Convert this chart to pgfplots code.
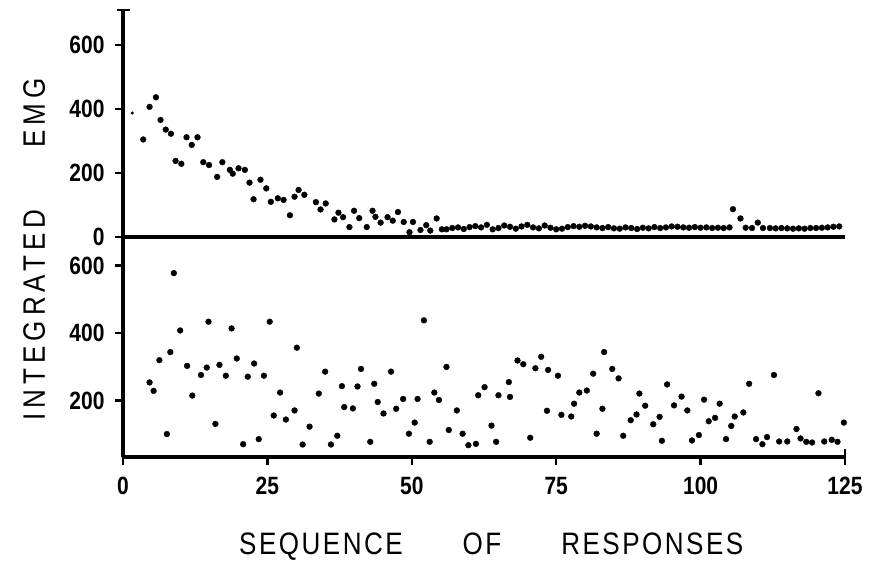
\documentclass[border=0pt]{standalone}
\usepackage{fontspec}
\setmainfont{Liberation Sans}
\newfontfamily\tickfont{Liberation Sans}[FakeStretch=0.84]
\newfontfamily\xtitlefont{Liberation Sans}[FakeStretch=0.84, LetterSpace=8]
\newfontfamily\ytitlefont{Liberation Sans}[FakeStretch=0.84, LetterSpace=16]
\usepackage{pgfplots}
\pgfplotsset{compat=1.18}

\pgfplotsset{
  emgaxis/.style={
    scale only axis, width=722pt,
    xmin=0, xmax=125, clip=false,
    axis x line*=bottom, axis y line*=left,
    axis line style={-, line width=3.2pt},
    tick align=outside, major tick length=8pt,
    tick style={black, line width=2.4pt},
    ticklabel style={font=\tickfont\bfseries\fontsize{25}{25}\selectfont},
    yticklabel style={xshift=-7pt},
    xticklabel style={yshift=-9pt},
    /pgf/number format/assume math mode=true,
    ytick pos=left, xtick pos=bottom,
  },
  dots/.style={only marks, mark=*, mark size=2.9pt, black, mark options={fill=black, draw=black}},
}

\begin{document}
\begin{tikzpicture}
\path[use as bounding box] (0pt,0pt) rectangle (874pt,567pt);

% upper panel: integrated EMG during acquisition
\begin{axis}[emgaxis,
  at={(123pt,330pt)}, anchor=south west, height=227pt,
  ymin=0, ymax=710,
  xtick=\empty,
  ytick={0,200,400,600},
  extra y ticks={710}, extra y tick labels={},
  extra y tick style={tick align=center, major tick length=13pt},
  ylabel={\ytitlefont\fontsize{31}{31}\selectfont INTEGRATED\hspace{62pt}EMG},
  every axis y label/.style={at={(axis description cs:-0.123,-0.055)}, rotate=90, anchor=center},
]
\addplot[dots, mark size=1.4pt] coordinates {(1.6,388)};
\addplot[dots] coordinates {
(3.5,305) (4.6,407) (5.7,437) (6.5,366) (7.4,336) (8.3,323) (9.1,238) (10.1,229)
(11.0,312) (11.9,288) (12.9,312) (13.9,234) (14.9,225) (16.3,188) (17.2,234) (18.5,210)
(19.0,198) (20.0,215) (21.1,210) (21.9,170) (22.6,118) (23.8,179) (24.8,152) (25.6,110)
(26.8,121) (27.8,116) (28.9,68) (29.7,126) (30.4,147) (31.4,132) (33.4,109) (34.2,86)
(35.1,105) (36.6,55) (37.3,76) (38.1,62) (39.2,31) (40.0,82) (40.9,59) (42.2,31)
(43.2,82) (43.7,63) (44.6,45) (45.8,62) (46.7,51) (47.6,78) (48.6,47) (49.6,15)
(50.2,47) (51.5,22) (52.5,37) (53.2,20) (54.3,58) (55.2,24)
(56,24) (57,28) (58,30) (59,25) (60,31) (61,34) (62,30) (63,38) (64,24) (65,28)
(66,36) (67,32) (68,26) (69,33) (70,38) (71,30) (72,27) (73,36) (74,29) (75,24)
(76,26) (77,31) (78,34) (79,32) (80,35) (81,33) (82,30) (83,28) (84,31) (85,27)
(86,26) (87,30) (88,28) (89,25) (90,29) (91,27) (92,31) (93,28) (94,30) (95,33)
(96,32) (97,30) (98,29) (99,31) (100,29) (101,30) (102,28) (103,29) (104,28) (105,30)
(105.6,87) (106.9,58) (107.8,29) (108.9,28) (109.9,45) (110.8,28) (112,28) (113,27)
(114,28) (115,27) (116,26) (117,27) (118,26) (119,28) (120,28) (121,29) (122,30)
(123,32) (124,33)
};
\end{axis}

% lower panel: integrated EMG during extinction
\begin{axis}[emgaxis,
  at={(123pt,110pt)}, anchor=south west, height=220pt,
  ymin=33, ymax=685,
  xtick={0,25,50,75,100},
  extra x ticks={125}, extra x tick labels={125},
  extra x tick style={tick align=center, major tick length=16pt},
  ytick={200,400,600},
  xlabel={\xtitlefont\fontsize{31}{31}\selectfont SEQUENCE\hspace{60pt}OF\hspace{60pt}RESPONSES},
  every axis x label/.style={at={(axis description cs:0.51,-0.445)}, anchor=base},
]
\addplot[dots] coordinates {
(4.6,254) (5.3,229) (6.3,320) (7.6,101) (8.2,344) (8.8,578) (9.9,408) (11.1,303)
(12.0,215) (13.5,276) (14.5,298) (14.8,434) (16.0,131) (16.7,306) (17.8,274) (18.8,414)
(19.7,325) (20.8,71) (21.6,271) (22.7,310) (23.5,86) (24.4,274) (25.4,434) (26.1,156)
(27.2,224) (28.2,144) (29.7,171) (30.1,357) (31.1,70) (32.3,123) (33.9,221) (35.0,286)
(36.0,70) (37.1,96) (37.9,243) (38.3,181) (39.8,177) (40.6,242) (41.2,294) (42.8,78)
(43.5,250) (44.1,196) (45.1,162) (46.4,286) (47.3,176) (48.5,205) (49.5,102) (50.5,135)
(51.0,205) (52.1,438) (53.1,78) (53.9,224) (54.7,202) (56.0,300) (56.4,113) (57.8,171)
(58.8,102) (59.8,68) (61.1,72) (61.5,216) (62.6,240) (63.8,126) (64.6,78) (65.0,216)
(66.8,255) (67.0,211) (68.3,319) (69.3,308) (70.5,90) (71.4,296) (72.4,330) (73.4,170)
(73.6,291) (75.3,274) (75.9,158) (77.6,153) (78.1,191) (79.0,224) (80.3,230) (81.4,280)
(82.0,102) (83.0,176) (83.3,344) (84.7,294) (85.8,266) (86.6,96) (87.9,142) (88.9,159)
(89.4,221) (90.4,185) (91.8,130) (92.9,152) (93.3,81) (94.2,248) (95.4,186) (96.7,212)
(97.7,171) (98.5,82) (99.7,98) (100.6,203) (101.4,139) (102.5,149) (103.3,191) (104.4,86)
(105.3,125) (105.9,153) (107.4,165) (108.4,250) (109.6,86) (110.7,71) (111.5,92) (112.7,276)
(113.6,79) (115.0,79) (116.6,116) (117.3,88) (118.3,78) (119.3,76) (120.4,222) (121.4,79)
(122.7,84) (123.7,78) (124.8,135)
};
\end{axis}
\end{tikzpicture}
\end{document}
